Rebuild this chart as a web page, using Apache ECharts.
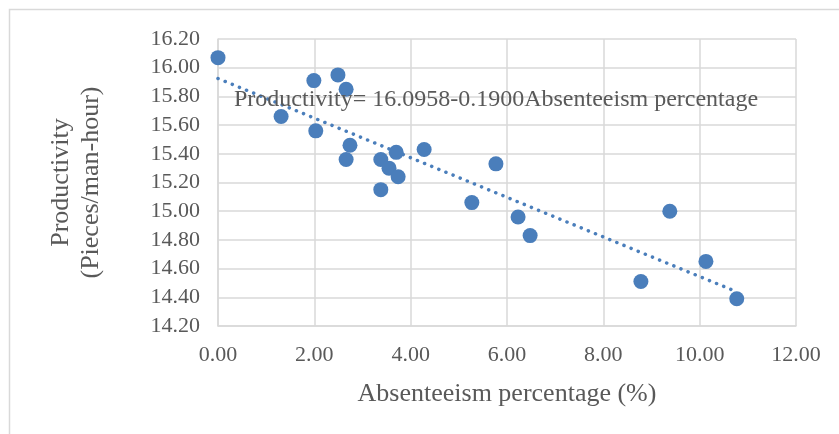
<!DOCTYPE html>
<html>
<head>
<meta charset="utf-8">
<style>
  html, body { margin: 0; padding: 0; background: #ffffff; }
  #chart { width: 839px; height: 434px; }
</style>
<script src="https://cdn.jsdelivr.net/npm/echarts@6/dist/echarts.min.js"></script>
</head>
<body>
<div id="chart"></div>
<script>
// Absenteeism percentage (%) for each observation
const absenteeism = [0.00, 1.31, 1.99, 2.03, 2.49, 2.66, 2.66, 2.74, 3.38, 3.38, 3.55,
                     3.70, 3.74, 4.28, 5.27, 5.77, 6.23, 6.48, 8.78, 9.38, 10.13, 10.77];
// Productivity (pieces/man-hour) for each observation
const productivity = [16.07, 15.66, 15.91, 15.56, 15.95, 15.85, 15.36, 15.46, 15.36, 15.15, 15.30,
                      15.41, 15.24, 15.43, 15.06, 15.33, 14.96, 14.83, 14.51, 15.00, 14.65, 14.39];
const equationText = 'Productivity= 16.0958-0.1900Absenteeism percentage';
const xTitle = 'Absenteeism percentage (%)';
const yTitle = 'Productivity\n(Pieces/man-hour)';

// Least-squares linear trend through the observations
function linearFit(xs, ys) {
  const n = xs.length;
  const mx = xs.reduce((a, b) => a + b, 0) / n;
  const my = ys.reduce((a, b) => a + b, 0) / n;
  let sxy = 0, sxx = 0;
  for (let i = 0; i < n; i++) {
    sxy += (xs[i] - mx) * (ys[i] - my);
    sxx += (xs[i] - mx) * (xs[i] - mx);
  }
  const slope = sxy / sxx;
  return { slope, intercept: my - slope * mx };
}
const fit = linearFit(absenteeism, productivity);
const xStart = Math.min(...absenteeism);
const xEnd = Math.max(...absenteeism);
const trend = [
  [xStart, fit.intercept + fit.slope * xStart],
  [xEnd, fit.intercept + fit.slope * xEnd]
];

const points = absenteeism.map((x, i) => [x, productivity[i]]);

const FONT = '"Liberation Serif", "Times New Roman", serif';
const TEXT = '#595959';
const GRID = '#d9d9d9';
const BLUE = '#4a7ebb';

const chart = echarts.init(document.getElementById('chart'), null, { renderer: 'canvas' });
chart.setOption({
  animation: false,
  backgroundColor: '#ffffff',
  grid: { left: 218, top: 39, width: 578, height: 287, containLabel: false },
  xAxis: {
    type: 'value', min: 0, max: 12, interval: 2,
    axisLine: { show: true, lineStyle: { color: GRID, width: 1.5 } },
    axisTick: { show: false },
    splitLine: { show: true, lineStyle: { color: GRID, width: 1.5 } },
    axisLabel: { color: TEXT, fontFamily: FONT, fontSize: 22, margin: 18,
                 formatter: v => v.toFixed(2) },
    name: xTitle, nameLocation: 'middle', nameGap: 55,
    nameTextStyle: { color: TEXT, fontFamily: FONT, fontSize: 26 }
  },
  yAxis: {
    type: 'value', min: 14.2, max: 16.2, interval: 0.2,
    axisLine: { show: true, lineStyle: { color: GRID, width: 1.5 } },
    axisTick: { show: false },
    splitLine: { show: true, lineStyle: { color: GRID, width: 1.5 } },
    axisLabel: { color: TEXT, fontFamily: FONT, fontSize: 22, margin: 18,
                 formatter: v => v.toFixed(2) },
    name: yTitle, nameLocation: 'middle', nameGap: 112, nameRotate: 90,
    nameTextStyle: { color: TEXT, fontFamily: FONT, fontSize: 26, lineHeight: 30, align: 'center' }
  },
  graphic: [
    {
      type: 'rect', silent: true, z: -10,
      shape: { x: 9.5, y: 9.5, width: 900, height: 600 },
      style: { fill: 'none', stroke: GRID, lineWidth: 1.5 }
    },
    {
      type: 'text', silent: true, z: 100,
      left: 234, top: 88,
      style: { text: equationText, fill: TEXT, font: '24px ' + FONT }
    }
  ],
  series: [
    {
      type: 'line', data: trend, symbol: 'none', z: 2,
      lineStyle: { color: BLUE, width: 3.5, type: [0.1, 7.6], cap: 'round' }
    },
    {
      type: 'scatter', data: points, symbol: 'circle', symbolSize: 15, z: 3,
      itemStyle: { color: BLUE, opacity: 1 }
    }
  ]
});
</script>
</body>
</html>
